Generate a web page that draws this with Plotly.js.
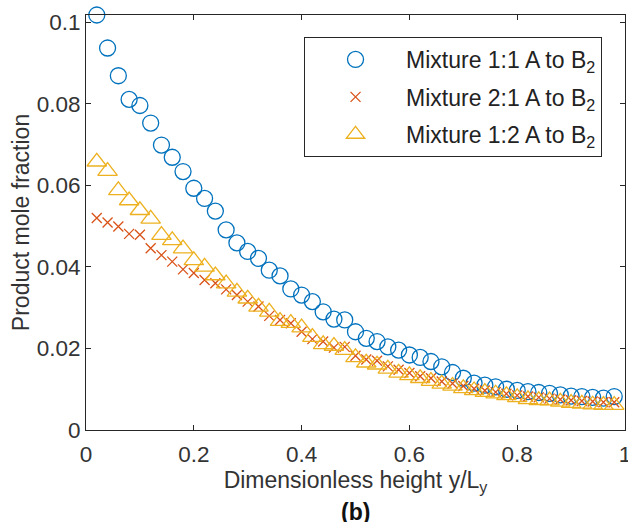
<!DOCTYPE html>
<html>
<head>
<meta charset="utf-8">
<script src="https://cdn.plot.ly/plotly-3.0.1.min.js"></script>
<style>html,body{margin:0;padding:0;background:#fff;}#chart{width:628px;height:522px;}</style>
</head>
<body>
<div id="chart"></div>
<script>
var xVals = [0.02,0.04,0.06,0.08,0.10,0.12,0.14,0.16,0.18,0.20,0.22,0.24,0.26,0.28,0.30,0.32,0.34,0.36,0.38,0.40,0.42,0.44,0.46,0.48,0.50,0.52,0.54,0.56,0.58,0.60,0.62,0.64,0.66,0.68,0.70,0.72,0.74,0.76,0.78,0.80,0.82,0.84,0.86,0.88,0.90,0.92,0.94,0.96,0.98];
var mix11 = [0.1018,0.0937,0.0869,0.0811,0.0796,0.0753,0.0699,0.0669,0.0634,0.0593,0.0568,0.0537,0.0491,0.0459,0.0438,0.0421,0.0392,0.0378,0.0346,0.0331,0.0315,0.0290,0.0272,0.0270,0.0241,0.0225,0.0217,0.0204,0.0196,0.0184,0.0178,0.0168,0.0155,0.0141,0.0127,0.0115,0.0110,0.0106,0.0100,0.0097,0.0094,0.0092,0.0090,0.0086,0.0083,0.0082,0.0080,0.0078,0.0082];
var mix21 = [0.0520,0.0509,0.0499,0.0481,0.0479,0.0446,0.0429,0.0413,0.0394,0.0385,0.0368,0.0360,0.0345,0.0331,0.0315,0.0303,0.0280,0.0270,0.0262,0.0241,0.0223,0.0217,0.0202,0.0204,0.0182,0.0173,0.0170,0.0156,0.0148,0.0140,0.0132,0.0127,0.0119,0.0114,0.0108,0.0101,0.0097,0.0093,0.0089,0.0085,0.0082,0.0080,0.0077,0.0075,0.0073,0.0071,0.0070,0.0068,0.0068];
var mix12 = [0.0658,0.0635,0.0588,0.0563,0.0539,0.0518,0.0478,0.0465,0.0445,0.0416,0.0400,0.0379,0.0359,0.0339,0.0322,0.0302,0.0290,0.0267,0.0262,0.0251,0.0228,0.0210,0.0206,0.0196,0.0178,0.0165,0.0160,0.0150,0.0140,0.0134,0.0127,0.0120,0.0113,0.0108,0.0102,0.0097,0.0093,0.0089,0.0085,0.0080,0.0075,0.0073,0.0072,0.0069,0.0066,0.0064,0.0062,0.0061,0.0061];
var seriesNames = ['Mixture 1:1 A to B<sub>2</sub>','Mixture 2:1 A to B<sub>2</sub>','Mixture 1:2 A to B<sub>2</sub>'];
var xTicks = [0,0.2,0.4,0.6,0.8,1];
var xTickText = ['0','0.2','0.4','0.6','0.8','1'];
var yTicks = [0,0.02,0.04,0.06,0.08,0.1];
var yTickText = ['0','0.02','0.04','0.06','0.08','0.1'];

var FONT = 'Liberation Sans, Arial, Helvetica, sans-serif';
var TXT = '#333333';
var traces = [
  {x:xVals, y:mix11, name:seriesNames[0], type:'scatter', mode:'markers', legendgroup:'a',
   marker:{symbol:'circle-open', size:16, color:'#0072BD', line:{width:1.3, color:'#0072BD'}}, cliponaxis:false},
  {x:xVals, y:mix21, name:seriesNames[1], type:'scatter', mode:'markers', legendgroup:'b',
   marker:{symbol:'x-thin-open', size:10, color:'#D95319', line:{width:1.3, color:'#D95319'}}, cliponaxis:false},
  {x:xVals, y:mix12, name:seriesNames[2], type:'scatter', mode:'markers', legendgroup:'c',
   marker:{symbol:'triangle-up-open', size:17, color:'#EDB120', line:{width:1.3, color:'#EDB120'}}, cliponaxis:false}
];
var axisCommon = {
  showgrid:false, zeroline:false, showline:true, linecolor:'#262626', linewidth:1,
  mirror:'ticks', ticks:'inside', ticklen:5, tickwidth:1, tickcolor:'#262626',
  tickfont:{family:FONT, size:22.5, color:TXT}, tickmode:'array', ticklabeloverflow:'allow'
};
var layout = {
  width:628, height:522,
  margin:{l:86, r:3, t:15, b:92},
  paper_bgcolor:'#fff', plot_bgcolor:'#fff',
  font:{family:FONT, size:23, color:TXT},
  xaxis:Object.assign({}, axisCommon, {range:[0,1], tickvals:xTicks, ticktext:xTickText, ticklabelstandoff:4,
    title:{text:'Dimensionless height y/L<sub>y</sub>', font:{family:FONT, size:23, color:TXT}, standoff:3}}),
  yaxis:Object.assign({}, axisCommon, {range:[0,0.1018], tickvals:yTicks, ticktext:yTickText,
    title:{text:'Product mole fraction', font:{family:FONT, size:23, color:TXT}, standoff:0}}),
  showlegend:true,
  legend:{x:0.4045, y:0.947, xanchor:'left', yanchor:'top', bgcolor:'#fff', bordercolor:'#262626', borderwidth:1,
    font:{family:FONT, size:23, color:'#222222'}, traceorder:'grouped', tracegroupgap:4.5, itemwidth:91},
  annotations:[{text:'<b>(b)</b>', xref:'paper', yref:'paper', x:0.5, y:-0.197, yanchor:'middle', showarrow:false,
    font:{family:FONT, size:23, color:'#111111'}}]
};
Plotly.newPlot('chart', traces, layout, {displayModeBar:false, staticPlot:true});
</script>
</body>
</html>
